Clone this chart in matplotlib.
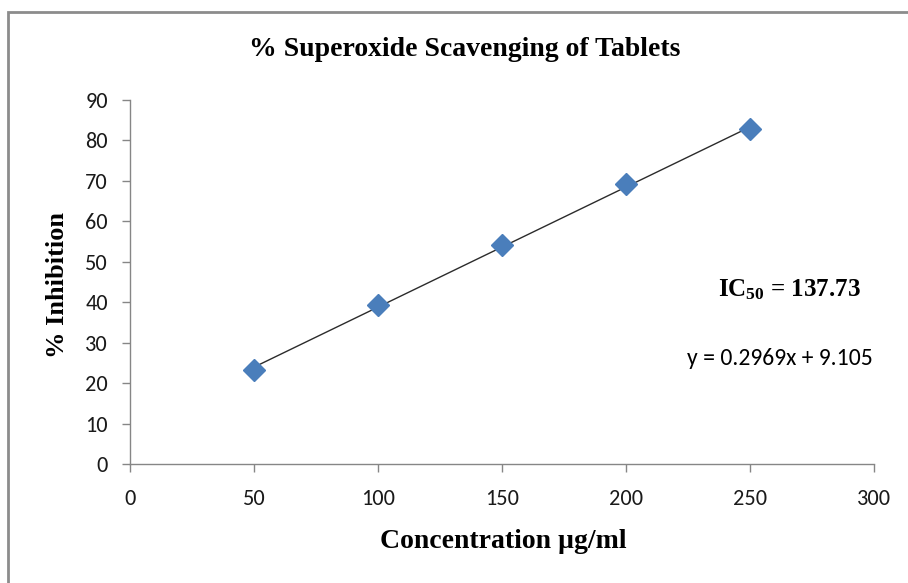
import matplotlib
matplotlib.use('Agg')
import matplotlib.pyplot as plt
from matplotlib.patches import Rectangle

# data
conc = [50, 100, 150, 200, 250]
inhibition = [23.2, 39.4, 54.1, 69.2, 82.8]
slope, intercept = 0.2969, 9.105
ic50 = 137.73
xticks = [0, 50, 100, 150, 200, 250, 300]
yticks = [0, 10, 20, 30, 40, 50, 60, 70, 80, 90]

serif = ['Liberation Serif', 'DejaVu Serif']
sans = ['Carlito', 'Lato', 'DejaVu Sans']

plt.rcParams['mathtext.fontset'] = 'custom'
plt.rcParams['mathtext.rm'] = 'Liberation Serif:bold'
plt.rcParams['mathtext.it'] = 'Liberation Serif:bold'
plt.rcParams['mathtext.bf'] = 'Liberation Serif:bold'

fig = plt.figure(figsize=(9.08, 5.83), dpi=100)
ax = fig.add_axes([130/908, 1-464/583, (874-130)/908, (464-100)/583])

# outer chart frame (cut off on the right and bottom)
fig.patches.append(Rectangle((8/908, -0.05), 1.1, 1.05 - 12/583,
                             transform=fig.transFigure, fill=False,
                             edgecolor='#8c8c8c', linewidth=2))

xs = [conc[0], conc[-1]]
ax.plot(xs, [slope*x + intercept for x in xs], color='#2b2b2b', lw=1.0, zorder=2)
ax.plot(conc, inhibition, linestyle='none', marker='D', ms=11,
        color='#4a7ebb', markeredgecolor='#4a7ebb', zorder=3)

ax.set_xlim(0, 300)
ax.set_ylim(0, 90)
ax.set_xticks(xticks)
ax.set_yticks(yticks)
for s in ['top', 'right']:
    ax.spines[s].set_visible(False)
for s in ['left', 'bottom']:
    ax.spines[s].set_color('#868686')
    ax.spines[s].set_linewidth(1.0)
ax.tick_params(direction='out', length=6, width=1, color='#868686',
               labelsize=16, labelcolor='#1a1a1a')
ax.tick_params(axis='x', pad=12)
ax.tick_params(axis='y', pad=10)
for lab in ax.get_xticklabels() + ax.get_yticklabels():
    lab.set_family(sans)

fig.text(465/908, 1-50/583, '% Superoxide Scavenging of Tablets',
         ha='center', va='center', family=serif, fontweight='bold', fontsize=20)
fig.text(503/908, 1-541/583, 'Concentration µg/ml', ha='center', va='center',
         family=serif, fontweight='bold', fontsize=20)
fig.text(58/908, 1-285/583, '% Inhibition', ha='center', va='center', rotation=90,
         family=serif, fontweight='bold', fontsize=19)

ax.text(266, 43.0, 'IC$_{50}$ = %.2f' % ic50, ha='center', va='center',
        family=serif, fontweight='bold', fontsize=18)
ax.text(262, 26.2, 'y = %.4fx + %.3f' % (slope, intercept), ha='center', va='center',
        family=sans, fontsize=17)

fig.savefig('out.png', dpi=100)
